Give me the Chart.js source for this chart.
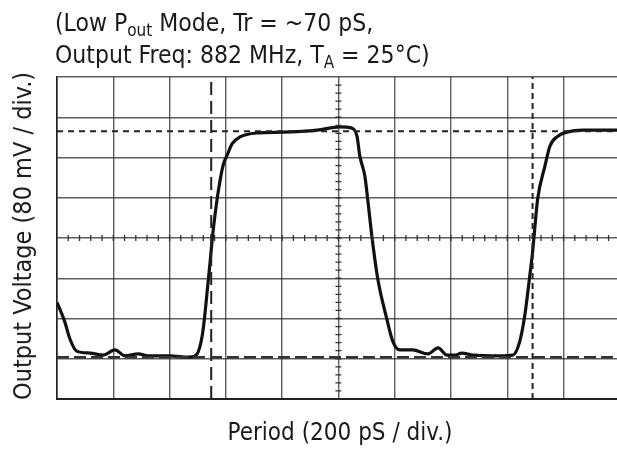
<!DOCTYPE html>
<html>
<head>
<meta charset="utf-8">
<script src="https://cdn.jsdelivr.net/npm/chart.js@4.4.1/dist/chart.umd.min.js"></script>
<style>
  html, body { margin: 0; padding: 0; background: #fff; overflow: hidden; }
  #wrap { position: relative; width: 617px; height: 451px; }
  .txt { position: absolute; font-family: "Liberation Sans Narrow", "DejaVu Sans Condensed", "Liberation Sans", sans-serif; color: #1a1a1a; white-space: nowrap; }
  #title { left: 55px; top: 7px; font-size: 24.5px; line-height: 32px; }
  #title sub { font-size: 17px; line-height: 0; vertical-align: -5px; }
  #xlabel { left: 340px; top: 418px; font-size: 24px; line-height: 28px; transform: translateX(-50%); }
  #ylabel { left: 23px; top: 236px; font-size: 25px; line-height: 28px; transform: translate(-50%, -50%) rotate(-90deg); }
</style>
</head>
<body>
<div id="wrap">
  <canvas id="scope"></canvas>
  <div class="txt" id="title">(Low P<sub>out</sub> Mode, Tr = ~70 pS,<br>Output Freq: 882 MHz, T<sub>A</sub> = 25°C)</div>
  <div class="txt" id="xlabel">Period (200 pS / div.)</div>
  <div class="txt" id="ylabel">Output Voltage (80 mV / div.)</div>
</div>
<script>
// ── DATA (divisions: x = 200 pS/div, y = 80 mV/div) ─────────────────────────
const xGrid = [0, 1, 2, 3, 4, 5, 6, 7, 8, 9];
const yGrid = [0, 1, 2, 3, 4, 5, 6, 7, 8];

const waveX = [0.0, 0.14, 0.23, 0.35, 0.59, 0.82, 1.03, 1.21, 1.44, 1.65, 2.0, 2.36, 2.49, 2.58, 2.62, 2.67, 2.72, 2.76, 2.81, 2.87, 2.95, 3.03, 3.11, 3.25, 3.55, 4.01, 4.62, 5.03, 5.24, 5.33, 5.38, 5.47, 5.52, 5.6, 5.7, 5.86, 5.97, 6.09, 6.32, 6.59, 6.77, 6.93, 7.07, 7.19, 7.39, 7.87, 8.10, 8.22, 8.31, 8.4, 8.45, 8.48, 8.54, 8.67, 8.76, 8.9, 9.06, 9.34, 9.95];
const waveY = [2.4, 1.91, 1.49, 1.19, 1.14, 1.09, 1.22, 1.07, 1.12, 1.07, 1.07, 1.04, 1.12, 1.57, 2.0, 2.7, 3.4, 4.0, 4.6, 5.2, 5.8, 6.08, 6.34, 6.51, 6.61, 6.63, 6.68, 6.76, 6.73, 6.53, 6.04, 5.54, 4.97, 3.98, 2.98, 1.99, 1.42, 1.22, 1.22, 1.12, 1.27, 1.09, 1.09, 1.14, 1.09, 1.07, 1.09, 1.42, 2.06, 3.06, 3.65, 4.1, 4.97, 5.79, 6.29, 6.53, 6.63, 6.68, 6.68];

const highLevel = 6.65;   // upper cursor (dashed)
const lowLevel  = 1.04;   // lower cursor (long dash)
const cursorA   = 2.74;   // left time cursor
const cursorB   = 8.45;   // right time cursor

const X_MAX = 9.95;
const Y_MAX = 8;

// ── HELPERS ──────────────────────────────────────────────────────────────────
const pts = (xs, ys) => xs.map((x, i) => ({ x: x, y: ys[i] }));
const hLine = v => [{ x: 0, y: v }, { x: X_MAX, y: v }];
const vLine = v => [{ x: v, y: 0 }, { x: v, y: Y_MAX }];

// small division ticks on the centre cross
const centreTicks = {
    id: 'centreTicks',
    afterDatasetsDraw(chart) {
        const { ctx, scales: { x, y } } = chart;
        const cx = x.getPixelForValue(5), cy = y.getPixelForValue(4);
        ctx.save();
        ctx.strokeStyle = '#333';
        ctx.lineWidth = 1.3;
        ctx.beginPath();
        for (let d = 0.2; d < X_MAX; d += 0.2) {
            const px = x.getPixelForValue(d);
            ctx.moveTo(px, cy - 3); ctx.lineTo(px, cy + 3);
        }
        for (let v = 0.2; v < Y_MAX; v += 0.2) {
            const py = y.getPixelForValue(v);
            ctx.moveTo(cx - 3, py); ctx.lineTo(cx + 3, py);
        }
        ctx.stroke();
        ctx.restore();
    }
};

const gridStyle = { color: 'rgba(40,40,40,0.75)', lineWidth: 1.4, drawTicks: false };

new Chart(document.getElementById('scope').getContext('2d'), {
    type: 'scatter',
    data: {
        datasets: [
            { data: hLine(highLevel), showLine: true, borderColor: '#222', borderWidth: 2, borderDash: [6, 5], pointRadius: 0 },
            { data: hLine(lowLevel),  showLine: true, borderColor: '#333', borderWidth: 2.5, borderDash: [12, 5], pointRadius: 0 },
            { data: vLine(cursorA),   showLine: true, borderColor: '#222', borderWidth: 2, borderDash: [13, 6], pointRadius: 0 },
            { data: vLine(cursorB),   showLine: true, borderColor: '#222', borderWidth: 2, borderDash: [6, 4], pointRadius: 0 },
            { data: pts(waveX, waveY), showLine: true, borderColor: '#111', borderWidth: 3.2,
              cubicInterpolationMode: 'monotone', pointRadius: 0 }
        ]
    },
    options: {
        responsive: true, maintainAspectRatio: false, animation: false,
        layout: { padding: { left: 57, top: 77, right: 0, bottom: 52 } },
        plugins: { legend: { display: false }, tooltip: { enabled: false } },
        scales: {
            x: {
                type: 'linear', min: 0, max: X_MAX,
                afterBuildTicks: s => { s.ticks = xGrid.map(v => ({ value: v })); },
                ticks: { display: false },
                grid: gridStyle,
                border: { display: true, color: '#222', width: 2 }
            },
            y: {
                type: 'linear', min: 0, max: Y_MAX,
                afterBuildTicks: s => { s.ticks = yGrid.map(v => ({ value: v })); },
                ticks: { display: false },
                grid: gridStyle,
                border: { display: true, color: '#222', width: 1.6 }
            }
        }
    },
    plugins: [centreTicks]
});
</script>
</body>
</html>
